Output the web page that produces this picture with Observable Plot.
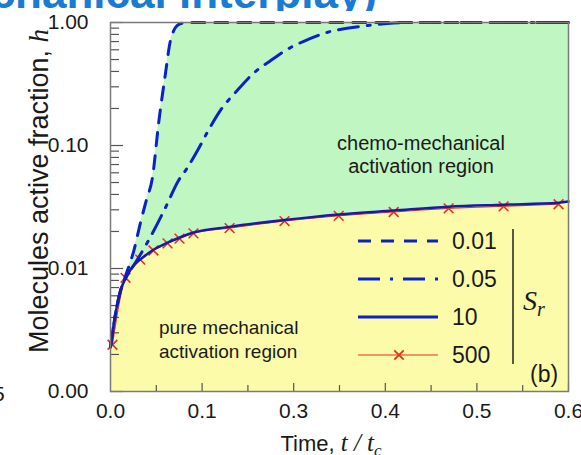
<!DOCTYPE html>
<html><head><meta charset="utf-8">
<script src="https://cdn.jsdelivr.net/npm/d3@7"></script>
<script src="https://cdn.jsdelivr.net/npm/@observablehq/plot@0.6"></script>
<style>
body{margin:0;background:#fff;}
#wrap{position:relative;width:581px;height:455px;overflow:hidden;background:#fff;font-family:"Liberation Sans",Arial,sans-serif;}
#title{position:relative;width:581px;height:11px;overflow:hidden;}
#title span{position:absolute;right:204px;top:-29px;font-weight:bold;font-size:44px;line-height:44px;color:#1b7ad2;white-space:nowrap;}
</style>
</head><body>
<div id="wrap"><div id="title"><span>Chemo-mechanical interplay)</span></div><div id="chart"></div></div>
<script>
// ---- data ----
const t001 = [0, 0.0066, 0.0131, 0.0197, 0.0306, 0.039, 0.047, 0.055, 0.063, 0.072, 0.0786, 0.089, 0.1, 0.6];
const h001 = [0.0023, 0.0043, 0.0066, 0.0087, 0.0140, 0.0232, 0.036, 0.055, 0.151, 0.385, 0.714, 0.96, 1.0, 1.0];
const t005 = [0, 0.0066, 0.0131, 0.0219, 0.0328, 0.0498, 0.0721, 0.0891, 0.1009, 0.114, 0.128, 0.144, 0.166, 0.187, 0.210, 0.236, 0.259, 0.288, 0.317, 0.337, 0.371, 0.406, 0.6];
const h005 = [0.0023, 0.0043, 0.0066, 0.0088, 0.0112, 0.0169, 0.0313, 0.0519, 0.0662, 0.091, 0.132, 0.193, 0.280, 0.385, 0.491, 0.626, 0.728, 0.845, 0.911, 0.946, 0.99, 1.0, 1.0];
const t10 = [0, 0.0066, 0.0131, 0.0219, 0.0328, 0.0432, 0.0563, 0.0747, 0.0891, 0.1087, 0.156, 0.228, 0.299, 0.371, 0.443, 0.515, 0.587, 0.6];
const h10 = [0.0023, 0.0043, 0.0066, 0.0088, 0.0110, 0.0124, 0.0142, 0.0162, 0.0177, 0.0196, 0.0218, 0.0248, 0.0275, 0.0296, 0.0318, 0.0330, 0.0342, 0.0350];
const t500 = [0.0026, 0.0197, 0.039, 0.0563, 0.0747, 0.0904, 0.1087, 0.156, 0.228, 0.299, 0.371, 0.443, 0.515, 0.587];
const h500 = [0.0024, 0.0084, 0.0118, 0.0140, 0.0160, 0.0175, 0.0193, 0.0213, 0.0243, 0.0268, 0.0288, 0.0308, 0.0320, 0.0333];
const seriesLabels = ["0.01", "0.05", "10", "500"];
const xTickVals = [0, 0.12, 0.24, 0.36, 0.48, 0.6];
const xTickLabels = ["0.0", "0.1", "0.3", "0.4", "0.5", "0.6"];
const yTickVals = [0.001, 0.01, 0.1, 1];
const yTickLabels = ["0.00", "0.01", "0.10", "1.00"];

const rows = (t, h) => t.map((v, i) => ({t: v, h: h[i]}));
const s001 = rows(t001, h001), s005 = rows(t005, h005), s10 = rows(t10, h10), s500 = rows(t500, h500);

const W = 581, H = 444, mL = 110, mR = 13, mT = 11, mB = 64;
const pw = W - mL - mR, ph = H - mT - mB;
const xd = [0, 0.6], yd = [0.001, 1];
const dxPx = px => xd[1] * px / pw;
const dyPx = px => yd[0] * Math.pow(10, 3 * px / ph);
const yMinor = d3.range(-3, 0).flatMap(e => d3.range(2, 10).map(m => m * Math.pow(10, e)));
const xAll = d3.range(0, 11).map(i => i * 0.06);
const xMinor = xAll.filter((d, i) => i % 2 === 1);
const xMajor = xAll.filter((d, i) => i % 2 === 0 && i > 0);

const blue = "#0c22c4", red = "#e3321f", tickc = "#555";
const chart = Plot.plot({
  width: W, height: H, marginLeft: mL, marginRight: mR, marginTop: mT, marginBottom: mB,
  style: {fontFamily: "Liberation Sans, Arial, sans-serif", fontSize: "21px", color: "#1a1a1a", background: "white", overflow: "visible"},
  x: {domain: xd},
  y: {type: "log", domain: yd},
  marks: [
    Plot.areaY(s10, {x: "t", y1: yd[0], y2: "h", fill: "#fcfba9", curve: "monotone-x"}),
    Plot.areaY(s10, {x: "t", y1: "h", y2: yd[1], fill: "#c0f6c1", curve: "monotone-x"}),
    Plot.areaY(s001, {x: "t", y1: "h", y2: yd[1], fill: "white", curve: "monotone-x"}),
    Plot.ruleY(yTickVals, {y: d => d, x1: 0, x2: dxPx(13), stroke: tickc, strokeWidth: 1.2}),
    Plot.ruleY(yMinor, {y: d => d, x1: 0, x2: dxPx(9), stroke: tickc, strokeWidth: 1.2}),
    Plot.ruleX(xMajor, {x: d => d, y1: yd[0], y2: dyPx(8), stroke: tickc, strokeWidth: 1.2}),
    Plot.ruleX(xMinor, {x: d => d, y1: yd[0], y2: dyPx(6), stroke: tickc, strokeWidth: 1.2}),
    Plot.line(s500, {x: "t", y: "h", stroke: red, strokeWidth: 1, curve: "monotone-x"}),
    Plot.dot(s500, {x: "t", y: "h", symbol: "times", r: 4.5, stroke: red, strokeWidth: 1.6}),
    Plot.line(s005, {x: "t", y: "h", stroke: blue, strokeWidth: 3, strokeDasharray: "20,9,3,9", curve: "monotone-x"}),
    Plot.line(s001, {x: "t", y: "h", stroke: blue, strokeWidth: 3, strokeDasharray: "13,10", curve: "monotone-x"}),
    Plot.line(s10, {x: "t", y: "h", stroke: "#1a1aa8", strokeWidth: 2.5, curve: "monotone-x"}),
    Plot.frame({stroke: "#7a7a7a", strokeWidth: 1.5}),
    Plot.axisX({ticks: xTickVals, tickFormat: d => xTickLabels[xTickVals.indexOf(d)], tickSize: 0, tickPadding: 12, label: null}),
    Plot.axisY({ticks: yTickVals, tickFormat: d => yTickLabels[yTickVals.indexOf(d)], tickSize: 0, tickPadding: 22, label: null})
  ]
});
document.getElementById("chart").appendChild(chart);

const svg = d3.select(chart);
const g = svg.append("g").attr("font-family", "Liberation Sans, Arial, sans-serif").attr("fill", "#1a1a1a").attr("text-anchor", "start");
const serif = "Liberation Serif, Times New Roman, serif";

// region annotations
g.append("text").attr("x", 421).attr("y", 139).attr("text-anchor", "middle").attr("font-size", 20).text("chemo-mechanical");
g.append("text").attr("x", 421).attr("y", 162).attr("text-anchor", "middle").attr("font-size", 20).text("activation region");
g.append("text").attr("x", 159).attr("y", 323).attr("font-size", 19).text("pure mechanical");
g.append("text").attr("x", 159).attr("y", 347).attr("font-size", 19).text("activation region");

// legend
const legY = [230, 268, 306, 344];
const styles = [
  {stroke: blue, w: 3, dash: "13,10"},
  {stroke: blue, w: 3, dash: "22,10,3,10"},
  {stroke: blue, w: 3, dash: null},
  {stroke: red, w: 1, dash: null}
];
seriesLabels.forEach((lab, i) => {
  const y = legY[i], st = styles[i];
  const ln = g.append("line").attr("x1", 358).attr("x2", 438).attr("y1", y).attr("y2", y)
    .attr("stroke", st.stroke).attr("stroke-width", st.w);
  if (st.dash) ln.attr("stroke-dasharray", st.dash);
  if (i === 3) {
    g.append("path").attr("d", d3.symbol(d3.symbolTimes, 60)()).attr("transform", `translate(399,${y})`)
      .attr("stroke", red).attr("stroke-width", 1.8).attr("fill", "none");
  }
  g.append("text").attr("x", 452).attr("y", y).attr("dy", "0.36em").attr("font-size", 23).text(lab);
});
g.append("line").attr("x1", 513).attr("x2", 513).attr("y1", 218).attr("y2", 353).attr("stroke", "#222").attr("stroke-width", 1.5);
const sr = g.append("text").attr("x", 523).attr("y", 299).attr("font-family", serif).attr("font-style", "italic").attr("font-size", 28);
sr.append("tspan").text("S");
sr.append("tspan").attr("font-size", 20).attr("dy", 6).text("r");
g.append("text").attr("x", 530).attr("y", 371).attr("font-size", 23).text("(b)");

// axis titles
const xt = g.append("text").attr("x", 331).attr("y", 440).attr("text-anchor", "middle").attr("font-size", 22);
xt.append("tspan").text("Time, ");
xt.append("tspan").attr("font-family", serif).attr("font-style", "italic").attr("font-size", 25).text("t / t");
xt.append("tspan").attr("font-family", serif).attr("font-style", "italic").attr("font-size", 17).attr("dy", 5).text("c");
const yt = g.append("text").attr("transform", "translate(48,180) rotate(-90)").attr("text-anchor", "middle").attr("font-size", 27);
yt.append("tspan").text("Molecules active fraction, ");
yt.append("tspan").attr("font-family", serif).attr("font-style", "italic").text("h");
// cropped glyph from the neighbouring panel
g.append("text").attr("x", -7).attr("y", 390).attr("font-size", 21).text("5");
</script>
</body></html>
